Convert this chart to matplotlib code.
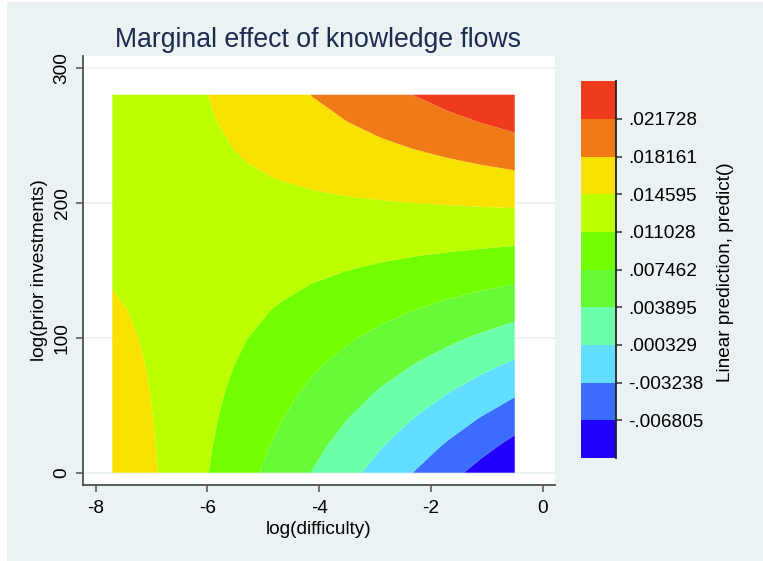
#contour of the marginal effect of knowledge flows

import matplotlib
matplotlib.use("Agg")
import matplotlib.pyplot as plt
from matplotlib.patches import Rectangle

plt.rcParams['font.family'] = ['Liberation Sans', 'DejaVu Sans']

# grid of predicted values (rows = log prior investments)
log_difficulty = [-7.7, -7.1, -6.5, -5.9, -5.3, -4.7, -4.1, -3.5, -2.9, -2.3, -1.7, -1.1, -0.5]
log_prior = [0, 20, 40, 60, 80, 100, 120, 140, 160, 180, 200, 220, 240, 260, 280]
prediction = [
    [0.017759, 0.015416, 0.013072, 0.010728, 0.008385, 0.006041, 0.003698, 0.001354, -0.000990, -0.003333, -0.005677, -0.008020, -0.010364],
    [0.017295, 0.015203, 0.013110, 0.011017, 0.008925, 0.006832, 0.004740, 0.002646, 0.000553, -0.001539, -0.003632, -0.005724, -0.007817],
    [0.016831, 0.014990, 0.013148, 0.011305, 0.009464, 0.007622, 0.005781, 0.003939, 0.002097, 0.000256, -0.001587, -0.003428, -0.005270],
    [0.016367, 0.014777, 0.013185, 0.011594, 0.010004, 0.008413, 0.006823, 0.005231, 0.003640, 0.002050, 0.000459, -0.001131, -0.002723],
    [0.015903, 0.014563, 0.013223, 0.011883, 0.010544, 0.009203, 0.007864, 0.006524, 0.005183, 0.003844, 0.002504, 0.001165, -0.000176],
    [0.015439, 0.014350, 0.013261, 0.012172, 0.011083, 0.009994, 0.008906, 0.007816, 0.006727, 0.005639, 0.004549, 0.003461, 0.002372],
    [0.014974, 0.014137, 0.013299, 0.012460, 0.011623, 0.010784, 0.009947, 0.009109, 0.008270, 0.007433, 0.006594, 0.005757, 0.004918],
    [0.014510, 0.013924, 0.013336, 0.012749, 0.012163, 0.011575, 0.010989, 0.010401, 0.009814, 0.009227, 0.008640, 0.008053, 0.007466],
    [0.014046, 0.013711, 0.013374, 0.013038, 0.012702, 0.012366, 0.012030, 0.011693, 0.011357, 0.011021, 0.010685, 0.010349, 0.010012],
    [0.013582, 0.013498, 0.013412, 0.013326, 0.013242, 0.013156, 0.013072, 0.012986, 0.012900, 0.012816, 0.012730, 0.012645, 0.012560],
    [0.013118, 0.013284, 0.013450, 0.013615, 0.013781, 0.013947, 0.014113, 0.014278, 0.014444, 0.014610, 0.014775, 0.014942, 0.015106],
    [0.012654, 0.013071, 0.013487, 0.013904, 0.014321, 0.014737, 0.015155, 0.015571, 0.015987, 0.016404, 0.016820, 0.017238, 0.017654],
    [0.012190, 0.012858, 0.013525, 0.014192, 0.014861, 0.015528, 0.016196, 0.016863, 0.017530, 0.018199, 0.018866, 0.019534, 0.020200],
    [0.011726, 0.012645, 0.013563, 0.014481, 0.015400, 0.016318, 0.017238, 0.018156, 0.019074, 0.019993, 0.020911, 0.021830, 0.022748],
    [0.011262, 0.012432, 0.013601, 0.014770, 0.015940, 0.017109, 0.018279, 0.019448, 0.020617, 0.021787, 0.022956, 0.024126, 0.025294],
]

# contour cuts shown on the legend, plus the two outer band edges
cuts = [-0.006805, -0.003238, 0.000329, 0.003895, 0.007462,
        0.011028, 0.014595, 0.018161, 0.021728]
band_edges = [-0.010372] + cuts + [0.025295]
band_colors = ['#2200ff', '#3a6cff', '#60ddff', '#6cffaa', '#66f935',
               '#72ff00', '#bbff00', '#f9e100', '#f07b16', '#ef3a1b']

x_ticks = [-8, -6, -4, -2, 0]
y_ticks = [0, 100, 200, 300]

bg = '#eaf2f3'
axis_col = '#505050'

fig = plt.figure(figsize=(7.63, 5.61), dpi=100)
fig.patches.append(Rectangle((7/763, 0), 1, 1 - 2/561, transform=fig.transFigure,
                             facecolor=bg, edgecolor='none', zorder=-10))

ax = fig.add_axes([83/763, 1 - 485/561, 472/763, 429.3/561])
ax.set_facecolor('white')

cs = ax.contourf(log_difficulty, log_prior, prediction,
                 levels=band_edges, colors=band_colors, antialiased=True, zorder=2)

ax.set_xlim(-8.224, 0.22)
ax.set_ylim(-9.1, 308.9)
ax.set_xticks(x_ticks)
ax.set_yticks(y_ticks)
ax.set_xticklabels([str(t) for t in x_ticks])
ax.set_yticklabels([str(t) for t in y_ticks], rotation=90, va='center')
for t in y_ticks:
    ax.axhline(t, color=bg, lw=1.2, zorder=1)

for side in ['top', 'right']:
    ax.spines[side].set_visible(False)
for side in ['left', 'bottom']:
    ax.spines[side].set_color(axis_col)
    ax.spines[side].set_linewidth(1.3)
ax.tick_params(axis='both', direction='out', length=5, width=1.1,
               color=axis_col, labelsize=13.7, labelcolor='black')
ax.tick_params(axis='x', pad=6)
ax.tick_params(axis='y', pad=4)

ax.set_xlabel('log(difficulty)', fontsize=13.7)
ax.xaxis.set_label_coords(0.5, -0.085)
ax.set_ylabel('log(prior investments)', fontsize=13.7)
ax.yaxis.set_label_coords(-0.074, 0.5)

fig.text(318.4/763, 1 - 46.7/561, 'Marginal effect of knowledge flows',
         ha='center', va='baseline', fontsize=19.2, color='#1f2a4f')

# legend bar
cax = fig.add_axes([580.7/763, 1 - 458/561, 35/763, 376.7/561])
cbar = fig.colorbar(cs, cax=cax, ticks=cuts)
cbar.outline.set_visible(False)
cax.axvline(1, color='#222222', lw=1.3, clip_on=False)
cbar.ax.set_yticklabels([('%.6f' % c).replace('0.', '.', 1) for c in cuts])
cax.tick_params(axis='y', direction='out', length=4, width=1.1,
                color='#333333', labelsize=13.7, pad=5)
fig.text(725/763, 1 - 271.7/561, 'Linear prediction, predict()',
         rotation=90, ha='center', va='center', fontsize=13.7)

fig.savefig('out.png', dpi=100, facecolor='white')
